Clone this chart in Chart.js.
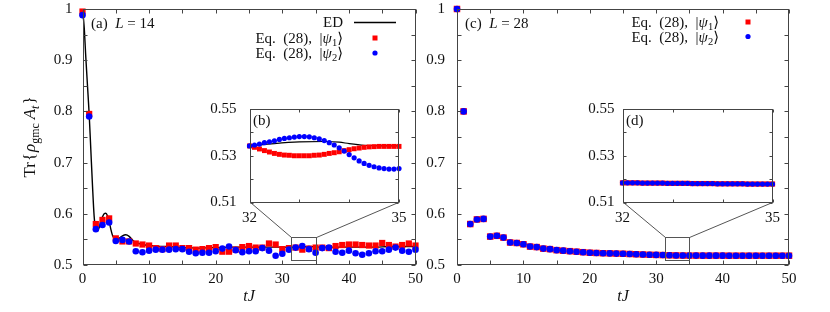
<!DOCTYPE html>
<html><head><meta charset="utf-8">
<script src="https://cdn.jsdelivr.net/npm/chart.js@4"></script>
<style>
html,body{margin:0;padding:0;background:#fff;}
#wrap{position:relative;width:830px;height:312px;overflow:hidden;background:#fff;}
#wrap canvas{position:absolute;left:0;top:0;}
</style></head><body>
<div id="wrap">
<canvas id="cA" width="830" height="312"></canvas>
<canvas id="cC" width="830" height="312"></canvas>
<canvas id="cB" width="830" height="312"></canvas>
<canvas id="cD" width="830" height="312"></canvas>
</div>
<script>
// ---------------- data ----------------
const tA = [0,1,2,3,4,5,6,7,8,9,10,11,12,13,14,15,16,17,18,19,20,21,22,23,24,25,26,27,28,29,30,31,32,33,34,35,36,37,38,39,40,41,42,43,44,45,46,47,48,49,50];
// panel (a) L=14, Eq.(28) |psi1>
const psi1A = [0.995,0.795,0.580,0.588,0.591,0.552,0.546,0.546,0.542,0.540,0.538,0.533,0.531,0.538,0.538,0.533,0.533,0.530,0.531,0.533,0.535,0.526,0.526,0.530,0.535,0.537,0.534,0.534,0.542,0.540,0.531,0.533,0.534,0.530,0.532,0.534,0.534,0.533,0.537,0.539,0.540,0.540,0.539,0.538,0.538,0.543,0.539,0.536,0.539,0.542,0.538];
// panel (a) L=14, Eq.(28) |psi2>
const psi2A = [0.988,0.790,0.570,0.578,0.583,0.547,0.549,0.546,0.527,0.525,0.528,0.530,0.530,0.530,0.531,0.531,0.526,0.523,0.524,0.524,0.527,0.532,0.536,0.529,0.525,0.527,0.527,0.533,0.528,0.518,0.522,0.530,0.534,0.537,0.531,0.524,0.533,0.534,0.526,0.524,0.528,0.523,0.520,0.523,0.527,0.527,0.530,0.534,0.528,0.526,0.530];
// panel (a) ED curve
const tED = [0,0.25,0.5,0.75,1,1.25,1.5,1.75,2,2.25,2.5,2.75,3,3.25,3.5,3.75,4,4.25,4.5,4.75,5,5.5,6,6.5,7,7.5,8,9,10,11,12,13,14,15,16,17,18,19,20,22,24,26,28,30,32,34,36,38,40,42,44,46,48,50];
const edA = [1.000,0.965,0.905,0.850,0.795,0.725,0.655,0.595,0.568,0.566,0.573,0.585,0.594,0.600,0.601,0.596,0.585,0.570,0.558,0.552,0.550,0.552,0.557,0.559,0.556,0.549,0.544,0.540,0.538,0.537,0.536,0.536,0.535,0.534,0.534,0.533,0.533,0.534,0.534,0.535,0.535,0.535,0.535,0.535,0.5345,0.536,0.535,0.535,0.535,0.535,0.535,0.536,0.536,0.536];
// panel (c) L=28
const psi1C = [1.000,0.800,0.580,0.589,0.590,0.5555,0.557,0.5535,0.544,0.543,0.5405,0.536,0.535,0.532,0.531,0.529,0.528,0.527,0.526,0.525,0.524,0.5235,0.523,0.5227,0.5223,0.522,0.5215,0.521,0.5205,0.520,0.5197,0.5194,0.5190,0.5187,0.5185,0.5184,0.5184,0.5183,0.5183,0.5183,0.5183,0.5182,0.5182,0.5182,0.5182,0.5182,0.5182,0.5182,0.5182,0.5182,0.5182];
const psi2C = [1.000,0.800,0.580,0.589,0.590,0.5555,0.557,0.5535,0.544,0.543,0.5405,0.536,0.535,0.532,0.531,0.529,0.528,0.527,0.526,0.525,0.524,0.5235,0.523,0.5227,0.5223,0.522,0.5215,0.521,0.5205,0.520,0.5197,0.5194,0.5190,0.5187,0.5185,0.5184,0.5184,0.5183,0.5183,0.5183,0.5183,0.5182,0.5182,0.5182,0.5182,0.5182,0.5182,0.5182,0.5182,0.5182,0.5182];
// insets, t = 32 ... 35
const tIn = [32.0,32.1,32.2,32.3,32.4,32.5,32.6,32.7,32.8,32.9,33.0,33.1,33.2,33.3,33.4,33.5,33.6,33.7,33.8,33.9,34.0,34.1,34.2,34.3,34.4,34.5,34.6,34.7,34.8,34.9,35.0];
const psi1B = [0.5342,0.5336,0.5329,0.5322,0.5316,0.5310,0.5306,0.5303,0.5302,0.5300,0.5300,0.5300,0.5300,0.5302,0.5303,0.5306,0.5310,0.5313,0.5317,0.5322,0.5326,0.5330,0.5333,0.5336,0.5338,0.5339,0.5340,0.5340,0.5340,0.5340,0.5340];
const psi2B = [0.5342,0.5346,0.5350,0.5356,0.5360,0.5364,0.5370,0.5374,0.5377,0.5380,0.5382,0.5382,0.5381,0.5377,0.5372,0.5365,0.5356,0.5346,0.5334,0.5320,0.5305,0.5291,0.5278,0.5267,0.5259,0.5253,0.5248,0.5245,0.5243,0.5243,0.5245];
const tEDB = [32.0,32.5,33.0,33.5,33.8,34.0,34.3,34.6,35.0];
const edB = [0.5342,0.5352,0.5359,0.5361,0.5358,0.5352,0.5345,0.5342,0.5342];
const psi1D = [0.5184,0.5184,0.5184,0.5184,0.5183,0.5183,0.5183,0.5183,0.5183,0.5182,0.5182,0.5182,0.5182,0.5182,0.5181,0.5181,0.5181,0.5181,0.5181,0.5180,0.5180,0.5180,0.5180,0.5180,0.5180,0.5179,0.5179,0.5179,0.5179,0.5179,0.5179];
const psi2D = [0.5184,0.5184,0.5184,0.5184,0.5183,0.5183,0.5183,0.5183,0.5183,0.5182,0.5182,0.5182,0.5182,0.5182,0.5181,0.5181,0.5181,0.5181,0.5181,0.5180,0.5180,0.5180,0.5180,0.5180,0.5180,0.5179,0.5179,0.5179,0.5179,0.5179,0.5179];
// ticks
const xTicksMain = [0,10,20,30,40,50];
const xTickLabelsMain = ['0','10','20','30','40','50'];
const yTicksMain = [0.5,0.6,0.7,0.8,0.9,1.0];
const yTickLabelsMain = ['0.5','0.6','0.7','0.8','0.9','1'];
const xMinorMain = [0,5,10,15,20,25,30,35,40,45,50];
const yMinorMain = [0.5,0.55,0.6,0.65,0.7,0.75,0.8,0.85,0.9,0.95,1.0];
const xTicksIn = [32,35];
const xTickLabelsIn = ['32','35'];
const yTicksIn = [0.51,0.53,0.55];
const yTickLabelsIn = ['0.51','0.53','0.55'];
const xMinorIn = [32,33,34,35];
const yMinorIn = [0.51,0.52,0.53,0.54,0.55];
// zoomed window shown in insets
const zoomX = [31.25,35];
const zoomY = [0.51,0.555];

// ---------------- helpers ----------------
const FAM = '"Liberation Serif","DejaVu Serif","DejaVu Sans",serif';
const FS = 15;
const TXT = '#111';
const RED = '#ff0000', BLUE = '#0000ff';
function fontStr(size, it){ return (it?'italic ':'') + size + 'px ' + FAM; }
function richWidth(ctx, parts, size){
  let w = 0;
  for (const p of parts){ ctx.font = fontStr(p.sub?size*0.7:size, p.it); w += ctx.measureText(p.t).width + (p.gap||0); }
  return w;
}
function drawRich(ctx, parts, x, y, size, align){
  const w = richWidth(ctx, parts, size);
  let cx = align==='right' ? x-w : (align==='center' ? x-w/2 : x);
  ctx.textAlign='left'; ctx.textBaseline='alphabetic'; ctx.fillStyle=TXT;
  for (const p of parts){
    const s = p.sub?size*0.7:size;
    ctx.font = fontStr(s, p.it);
    ctx.fillText(p.t, cx, y + (p.sub? size*0.22 : 0));
    cx += ctx.measureText(p.t).width + (p.gap||0);
  }
}
const pts = (xs, ys) => xs.map((x,i)=>({x:x, y:ys[i]}));

function frameTicks(len, xMinor, yMinor){
  return {
    id:'frameTicks',
    afterDatasetsDraw(chart){
      const ctx = chart.ctx, a = chart.chartArea, xs = chart.scales.x, ys = chart.scales.y;
      const L = Math.round(a.left)+0.5, R = Math.round(a.right)-0.5, T = Math.round(a.top)+0.5, B = Math.round(a.bottom)-0.5;
      ctx.save();
      ctx.strokeStyle = '#444'; ctx.lineWidth = 1;
      ctx.beginPath();
      for (const v of xMinor){ const px = Math.round(xs.getPixelForValue(v))+0.5;
        ctx.moveTo(px,B); ctx.lineTo(px,B-len); ctx.moveTo(px,T); ctx.lineTo(px,T+len); }
      for (const v of yMinor){ const py = Math.round(ys.getPixelForValue(v))+0.5;
        ctx.moveTo(L,py); ctx.lineTo(L+len,py); ctx.moveTo(R,py); ctx.lineTo(R-len,py); }
      ctx.stroke();
      ctx.strokeRect(L, T, R-L, B-T);
      ctx.restore();
    }
  };
}
function zeroPad(s){ s.paddingTop = 0; s.paddingBottom = 0; s.paddingLeft = 0; s.paddingRight = 0; }

function makeScales(o){
  return {
    x: { type:'linear', min:o.xmin, max:o.xmax,
      afterBuildTicks: s => { s.ticks = o.xt.map(v=>({value:v})); },
      ticks:{ callback:(v,i)=>o.xl[i], font:{family:FAM,size:FS}, color:TXT, padding:o.xpad, maxRotation:0, autoSkip:false },
      grid:{display:false, drawTicks:false}, border:{display:false},
      title: o.xtitle ? {display:true, text:'tJ', font:{family:FAM,size:FS+1,style:'italic'}, color:TXT, padding:{top:0,bottom:o.xtpad}} : {display:false},
      afterFit: s => { s.height = o.xh; zeroPad(s); } },
    y: { type:'linear', min:o.ymin, max:o.ymax,
      afterBuildTicks: s => { s.ticks = o.yt.map(v=>({value:v})); },
      ticks:{ callback:(v,i)=>o.yl[i], font:{family:FAM,size:FS}, color:TXT, padding:o.ypad, autoSkip:false },
      grid:{display:false, drawTicks:false}, border:{display:false},
      afterFit: s => { s.width = o.yw; zeroPad(s); } }
  };
}
const baseOpts = (pad, scales) => ({
  responsive:false, animation:false, events:[], devicePixelRatio:1,
  layout:{padding:pad, autoPadding:false},
  plugins:{legend:{display:false}, tooltip:{enabled:false}},
  scales:scales
});
function ds(data, style, r, color, order){
  return {data:data, pointStyle:style, pointRadius:r, pointHoverRadius:r, backgroundColor:color, borderWidth:0, showLine:false, clip:false, order:order};
}

// ---------------- panel (a) ----------------
const ED_PARTS = [{t:'ED'}];
const PSI1 = [{t:'Eq.  (28),  |'},{t:'ψ',it:true},{t:'1',sub:true},{t:'⟩'}];
const PSI2 = [{t:'Eq.  (28),  |'},{t:'ψ',it:true},{t:'2',sub:true},{t:'⟩'}];

const decoA = {
  id:'decoA',
  afterDraw(chart){
    const ctx = chart.ctx;
    ctx.save();
    // y title
    ctx.translate(30, 137); ctx.rotate(-Math.PI/2);
    drawRich(ctx, [{t:'Tr',gap:1},{t:'{',gap:1},{t:'ρ',it:true},{t:'gmc',sub:true,gap:4},{t:'A',it:true},{t:'t',it:true,sub:true,gap:1},{t:'}'}], 0, 5, 17, 'center');
    ctx.restore();
    ctx.save();
    drawRich(ctx, [{t:'(a)  '},{t:'L',it:true},{t:' = 14'}], 91, 28, FS, 'left');
    drawRich(ctx, ED_PARTS, 343, 27, FS, 'right');
    ctx.strokeStyle='#000'; ctx.lineWidth=1.4; ctx.beginPath(); ctx.moveTo(354,22.5); ctx.lineTo(396,22.5); ctx.stroke();
    drawRich(ctx, PSI1, 343, 43, FS, 'right');
    ctx.fillStyle=RED; ctx.fillRect(372.5,35.5,5,5);
    drawRich(ctx, PSI2, 343, 58, FS, 'right');
    ctx.fillStyle=BLUE; ctx.beginPath(); ctx.arc(375,53,2.6,0,Math.PI*2); ctx.fill();
    // zoom window
    const xs = chart.scales.x, ys = chart.scales.y;
    ctx.strokeStyle='#555'; ctx.lineWidth=1;
    const x0=Math.round(xs.getPixelForValue(zoomX[0]))+0.5, x1=Math.round(xs.getPixelForValue(zoomX[1]))+0.5;
    const y0=Math.round(ys.getPixelForValue(zoomY[1]))+0.5, y1=Math.round(ys.getPixelForValue(zoomY[0]))+0.5;
    ctx.strokeRect(x0,y0,x1-x0,y1-y0);
    ctx.restore();
  }
};
const chartA = new Chart(document.getElementById('cA'), {
  type:'scatter',
  data:{datasets:[
    ds(pts(tA,psi2A),'circle',3.3,BLUE,0),
    ds(pts(tA,psi1A),'rect',4.4,RED,1),
    {data:pts(tED,edA), showLine:true, pointRadius:0, borderColor:'#000', borderWidth:1.4, cubicInterpolationMode:'monotone', clip:false, order:2}
  ]},
  options: baseOpts({left:0,top:9,right:830-415.5,bottom:0},
    makeScales({xmin:0,xmax:50,ymin:0.5,ymax:1,xt:xTicksMain,xl:xTickLabelsMain,yt:yTicksMain,yl:yTickLabelsMain,xpad:5,ypad:10,xh:47,yw:82.5,xtitle:true,xtpad:6})),
  plugins:[frameTicks(4,xMinorMain,yMinorMain), decoA]
});

// ---------------- panel (c) ----------------
const decoC = {
  id:'decoC',
  afterDraw(chart){
    const ctx = chart.ctx;
    ctx.save();
    drawRich(ctx, [{t:'(c)  '},{t:'L',it:true},{t:' = 28'}], 465, 28, FS, 'left');
    drawRich(ctx, PSI1, 719, 27, FS, 'right');
    ctx.fillStyle=RED; ctx.fillRect(745.5,19.5,5,5);
    drawRich(ctx, PSI2, 719, 41.5, FS, 'right');
    ctx.fillStyle=BLUE; ctx.beginPath(); ctx.arc(748,36.5,2.6,0,Math.PI*2); ctx.fill();
    const xs = chart.scales.x, ys = chart.scales.y;
    ctx.strokeStyle='#555'; ctx.lineWidth=1;
    const x0=Math.round(xs.getPixelForValue(zoomX[0]))+0.5, x1=Math.round(xs.getPixelForValue(zoomX[1]))+0.5;
    const y0=Math.round(ys.getPixelForValue(zoomY[1]))+0.5, y1=Math.round(ys.getPixelForValue(zoomY[0]))+0.5;
    ctx.strokeRect(x0,y0,x1-x0,y1-y0);
    ctx.restore();
  }
};
const chartC = new Chart(document.getElementById('cC'), {
  type:'scatter',
  data:{datasets:[
    ds(pts(tA,psi2C),'circle',3.3,BLUE,0),
    ds(pts(tA,psi1C),'rect',4.6,RED,1)
  ]},
  options: baseOpts({left:457-40,top:9,right:830-789,bottom:0},
    makeScales({xmin:0,xmax:50,ymin:0.5,ymax:1,xt:xTicksMain,xl:xTickLabelsMain,yt:yTicksMain,yl:yTickLabelsMain,xpad:5,ypad:12,xh:47,yw:40,xtitle:true,xtpad:6})),
  plugins:[frameTicks(4,xMinorMain,yMinorMain), decoC]
});

// ---------------- insets ----------------
function insetDeco(id, label, parent){
  return {
    id:id,
    afterDraw(chart){
      const ctx = chart.ctx, a = chart.chartArea;
      const pxs = parent.scales.x, pys = parent.scales.y;
      ctx.save();
      drawRich(ctx, [{t:label}], a.left+3.5, a.top+16, FS, 'left');
      ctx.strokeStyle='#555'; ctx.lineWidth=1;
      const rx0=Math.round(pxs.getPixelForValue(zoomX[0]))+0.5, rx1=Math.round(pxs.getPixelForValue(zoomX[1]))+0.5;
      const ry=Math.round(pys.getPixelForValue(zoomY[1]))+0.5;
      const L=Math.round(a.left)+0.5, R=Math.round(a.right)-0.5, B=Math.round(a.bottom)-0.5;
      ctx.beginPath();
      ctx.moveTo(L,B); ctx.lineTo(rx0,ry);
      ctx.moveTo(R,B); ctx.lineTo(rx1,ry);
      ctx.stroke();
      ctx.restore();
    }
  };
}
const chartB = new Chart(document.getElementById('cB'), {
  type:'scatter',
  data:{datasets:[
    ds(pts(tIn,psi2B),'circle',2.6,BLUE,0),
    ds(pts(tIn,psi1B),'rect',3.5,RED,1),
    {data:pts(tEDB,edB), showLine:true, pointRadius:0, borderColor:'#000', borderWidth:1.2, cubicInterpolationMode:'monotone', clip:false, order:2}
  ]},
  options: baseOpts({left:249.5-40,top:109,right:830-399,bottom:312-202.5-25},
    makeScales({xmin:32,xmax:35,ymin:0.51,ymax:0.55,xt:xTicksIn,xl:xTickLabelsIn,yt:yTicksIn,yl:yTickLabelsIn,xpad:7,ypad:13,xh:25,yw:40,xtitle:false})),
  plugins:[frameTicks(3,xMinorIn,yMinorIn), insetDeco('decoB','(b)',chartA)]
});
const chartD = new Chart(document.getElementById('cD'), {
  type:'scatter',
  data:{datasets:[
    ds(pts(tIn,psi2D),'circle',2.6,BLUE,0),
    ds(pts(tIn,psi1D),'rect',3.7,RED,1)
  ]},
  options: baseOpts({left:622.5-40,top:109,right:830-772.5,bottom:312-202.5-25},
    makeScales({xmin:32,xmax:35,ymin:0.51,ymax:0.55,xt:xTicksIn,xl:xTickLabelsIn,yt:yTicksIn,yl:yTickLabelsIn,xpad:7,ypad:8,xh:25,yw:40,xtitle:false})),
  plugins:[frameTicks(3,xMinorIn,yMinorIn), insetDeco('decoD','(d)',chartC)]
});
</script>
</body></html>
